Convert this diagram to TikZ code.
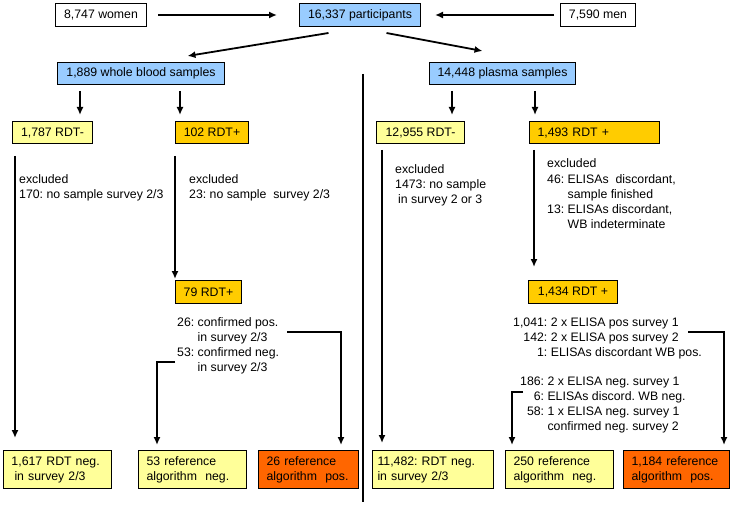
\documentclass[tikz,border=0pt]{standalone}
\usepackage{fontspec}
\setmainfont{Liberation Sans}
\usetikzlibrary{arrows.meta,calc}
\definecolor{sampleblue}{HTML}{99CCFF}
\definecolor{negyellow}{HTML}{FFFF99}
\definecolor{posgold}{HTML}{FFCC00}
\definecolor{refred}{HTML}{FF6600}
\newcommand{\figfont}{\fontsize{12.3pt}{15pt}\selectfont\frenchspacing}

\begin{document}
\begin{tikzpicture}[x=1pt,y=-1pt,
	box/.style={draw=black, line width=1pt, anchor=north west, inner xsep=8pt, inner ysep=0pt, font=\figfont},
	twoline/.style={box, align=left, minimum height=38pt},
	note/.style={anchor=base west, inner sep=0pt, font=\figfont},
	arr/.style={line width=1.8pt, -{Latex[length=8pt,width=7pt]}}]
			%%%%% START %%%%%
			\useasboundingbox (0,0) rectangle (733,505);
			
			\node[box, minimum width=91pt, minimum height=23pt] (women) at (55,3) {8,747 women};
			\node[box, fill=sampleblue, minimum width=121pt, minimum height=23pt] (part) at (299,3) {16,337 participants};
			\node[box, minimum width=75pt, minimum height=23pt] (men) at (560,3) {7,590 men};
			
			\node[box, fill=sampleblue, minimum width=167pt, minimum height=22pt] (wb) at (57,62) {1,889 whole blood samples};
			\node[box, fill=sampleblue, minimum width=146pt, minimum height=22pt] (pl) at (429,62) {14,448 plasma samples};
			
			\node[box, fill=negyellow, minimum width=80pt, minimum height=22pt] (wbneg) at (12,121) {1,787 RDT-};
			\node[box, fill=posgold, minimum width=73pt, minimum height=22pt] (wbpos) at (175,121) {102 RDT+};
			\node[box, fill=negyellow, minimum width=88pt, minimum height=22pt] (plneg) at (376,121) {12,955 RDT-};
			\node[box, fill=posgold, text width=114pt, minimum height=22pt] (plpos) at (529,121) {1,493 RDT +};
			
			\node[box, fill=posgold, minimum width=66pt, minimum height=23pt] (wbpos2) at (175,280) {79 RDT+};
			\node[box, fill=posgold, minimum width=89pt, minimum height=23pt] (plpos2) at (528,280) {1,434 RDT +};
			
			\node[twoline, fill=negyellow, text width=92pt] (r1) at (3,450) {1,617 RDT neg.\\\hspace{3pt}in survey 2/3};
			\node[twoline, fill=negyellow, text width=92pt] (r2) at (138,450) {53 reference\\algorithm\ \ neg.};
			\node[twoline, fill=refred, text width=84pt] (r3) at (258,450) {26 reference\\algorithm\ \ pos.};
			\node[twoline, fill=negyellow, inner xsep=5pt, text width=111pt] (r4) at (372,450) {11,482: RDT neg.\\in survey 2/3};
			\node[twoline, fill=negyellow, text width=92pt] (r5) at (505,450) {250 reference\\algorithm\ \ neg.};
			\node[twoline, fill=refred, text width=90pt] (r6) at (623,450) {1,184 reference\\algorithm\ \ pos.};
			
			\node[note] (ex1) at (19,184) {\begin{tabular}[t]{@{}l@{}}excluded\\170: no sample survey 2/3\end{tabular}};
			\node[note] (ex2) at (189,184) {\begin{tabular}[t]{@{}l@{}}excluded\\23: no sample\ \ survey 2/3\end{tabular}};
			\node[note] (ex3) at (395,174) {\begin{tabular}[t]{@{}l@{}}excluded\\1473: no sample\\\hspace{3pt}in survey 2 or 3\end{tabular}};
			\node[note] (ex4) at (547,168) {\begin{tabular}[t]{@{}l@{\hspace{3.4pt}}l@{}}\multicolumn{2}{@{}l@{}}{excluded}\\46: & ELISAs\ \ discordant,\\ & sample finished\\13: & ELISAs discordant,\\ & WB indeterminate\end{tabular}};
			
			\node[note] (res1) at (177,326) {\begin{tabular}[t]{@{}r@{\hspace{3.4pt}}l@{}}26: & confirmed pos.\\ & in survey 2/3\\53: & confirmed neg.\\ & in survey 2/3\end{tabular}};
			\node[note] (res2) at (513,326) {\begin{tabular}[t]{@{}r@{\hspace{3.4pt}}l@{}}1,041: & 2 x ELISA pos survey 1\\142: & 2 x ELISA pos survey 2\\1: & ELISAs discordant WB pos.\end{tabular}};
			\node[note] (res3) at (520,385) {\begin{tabular}[t]{@{}r@{\hspace{3.4pt}}l@{}}186: & 2 x ELISA neg. survey 1\\6: & ELISAs discord. WB neg.\\58: & 1 x ELISA neg. survey 1\\ & confirmed neg. survey 2\end{tabular}};
			
			\coordinate (c1) at (287,332);
			\coordinate (c2) at (175,362);
			\coordinate (c3) at (688,332);
			\coordinate (c4) at (523,392);
			
			\draw[arr, shorten <=11pt, shorten >=22pt] (women) -- (part);
			\draw[arr, shorten <=6pt, shorten >=14pt] (men) -- (part);
			\draw[arr] ([xshift=-31.5pt,yshift=-6pt]part.south) -- ([xshift=46.5pt,yshift=6pt]wb.north);
			\draw[arr] ([xshift=26.5pt,yshift=-6pt]part.south) -- ([xshift=-20pt,yshift=11pt]pl.north);
			
			\draw[arr, shorten <=6pt, shorten >=6pt] ([xshift=23pt]wb.south west) -- ([xshift=23pt]wb.south west |- wbneg.north);
			\draw[arr, shorten <=6pt, shorten >=6pt] ([xshift=123pt]wb.south west) -- ([xshift=123pt]wb.south west |- wbpos.north);
			\draw[arr, shorten <=6pt, shorten >=6pt] ([xshift=23pt]pl.south west) -- ([xshift=23pt]pl.south west |- plneg.north);
			\draw[arr, shorten <=6pt, shorten >=6pt] ([xshift=106pt]pl.south west) -- ([xshift=106pt]pl.south west |- plpos.north);
			
			\draw[arr, shorten <=12pt, shorten >=12pt] ([xshift=3pt]wbneg.south west) -- ([xshift=3pt]wbneg.south west |- r1.north);
			\draw[arr, shorten <=12pt, shorten >=1pt] (wbpos.south west) -- (wbpos.south west |- wbpos2.north);
			\draw[arr, shorten <=6pt, shorten >=7pt] ([xshift=6pt]plneg.south west) -- ([xshift=6pt]plneg.south west |- r4.north);
			\draw[arr, shorten <=6pt, shorten >=13pt] ([xshift=5pt]plpos.south west) -- ([xshift=5pt]plpos.south west |- plpos2.north);
			
			\draw[arr, shorten >=5pt] (c1) -| ([xshift=-18pt]r3.north east);
			\draw[arr, shorten >=5pt] (c2) -| ([xshift=19pt]r2.north west);
			\draw[arr, shorten >=5pt] (c3) -| ([xshift=-6pt]r6.north east);
			\draw[arr, shorten >=5pt] (c4) -| ([xshift=7pt]r5.north west);
			
			\draw[line width=1.8pt] (363,74) -- (363,502);
			%%%%% END %%%%%
\end{tikzpicture}
\end{document}
